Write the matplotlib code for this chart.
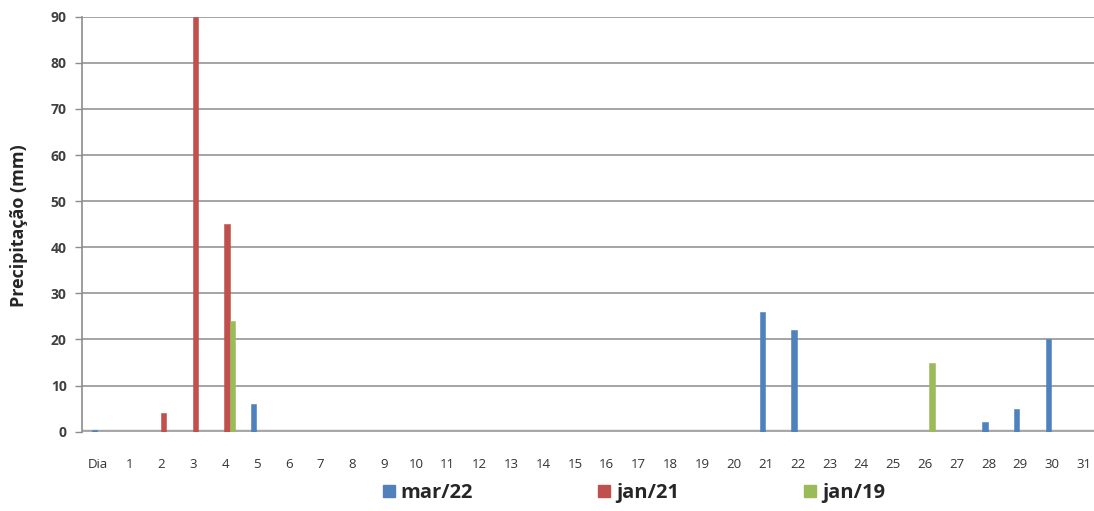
import matplotlib
matplotlib.use("Agg")
import matplotlib.pyplot as plt
from matplotlib.patches import Patch
import numpy as np

# Daily rainfall (mm) for three months
categories = ["Dia"] + [str(d) for d in range(1, 32)]
mar22 = [0.4, 0, 0, 0, 0, 6, 0, 0, 0, 0, 0, 0, 0, 0, 0, 0, 0, 0, 0, 0, 0,
         26, 22, 0, 0, 0, 0, 0, 2, 5, 20, 0]
jan21 = [0, 0, 4, 90, 45, 0, 0, 0, 0, 0, 0, 0, 0, 0, 0, 0, 0, 0, 0, 0, 0,
         0, 0, 0, 0, 0, 0, 0, 0, 0, 0, 0]
jan19 = [0, 0, 0, 0, 24, 0, 0, 0, 0, 0, 0, 0, 0, 0, 0, 0, 0, 0, 0, 0, 0,
         0, 0, 0, 0, 0, 15, 0, 0, 0, 0, 0]
series_names = ["mar/22", "jan/21", "jan/19"]
y_ticks = [0, 10, 20, 30, 40, 50, 60, 70, 80, 90]

colors = ["#4F81BD", "#C0504D", "#9BBB59"]
plt.rcParams["font.family"] = ["Open Sans", "DejaVu Sans"]

fig = plt.figure(figsize=(10.94, 5.11), dpi=100)
ax = fig.add_axes([82 / 1094, 1 - 431.7 / 511, 1 - 82 / 1094, (431.7 - 16.7) / 511])

x = np.arange(len(categories))
w = 0.165
offsets = [-0.11, 0.06, 0.23]
for vals, off, col in zip([mar22, jan21, jan19], offsets, colors):
    ax.bar(x + off, vals, width=w, color=col, edgecolor=col, linewidth=0.4, zorder=3)

ax.set_xlim(-0.5, 31.32)
ax.set_ylim(0, 90)
ax.set_yticks(y_ticks)
ax.set_xticks(x)
ax.set_xticklabels(categories, fontsize=9.5, color="#333333")
ax.set_yticklabels([str(v) for v in y_ticks], fontsize=10, color="#404040",
                   fontweight="bold")
ax.tick_params(axis="x", length=0, pad=19)
ax.tick_params(axis="y", length=5, width=1, color="#8c8c8c", pad=6)

ax.grid(axis="y", color="#8c8c8c", linewidth=1.1, zorder=0)
ax.axhline(0, color="#a6a6a6", linewidth=3.2, zorder=2)
ax.axhline(0, color="#e0e0e0", linewidth=0.8, zorder=2)
for side in ["top", "right", "bottom"]:
    ax.spines[side].set_visible(False)
ax.spines["left"].set_color("#8c8c8c")
ax.spines["left"].set_linewidth(1.2)

fig.text(19 / 1094, 1 - 226 / 511, "Precipitação (mm)", rotation=90,
         ha="center", va="center", fontsize=13, fontweight="bold", color="#262626")

handles = [Patch(facecolor=c, edgecolor=c) for c in colors]
leg = fig.legend(handles, series_names, loc="center", ncol=3,
                 bbox_to_anchor=(634 / 1094, 1 - 493 / 511), frameon=False,
                 prop={"size": 14.5, "weight": "bold"}, handlelength=0.6,
                 handleheight=0.6, handletextpad=0.3, columnspacing=6.2)
for t in leg.get_texts():
    t.set_color("#262626")

fig.savefig("out.png", dpi=100)
